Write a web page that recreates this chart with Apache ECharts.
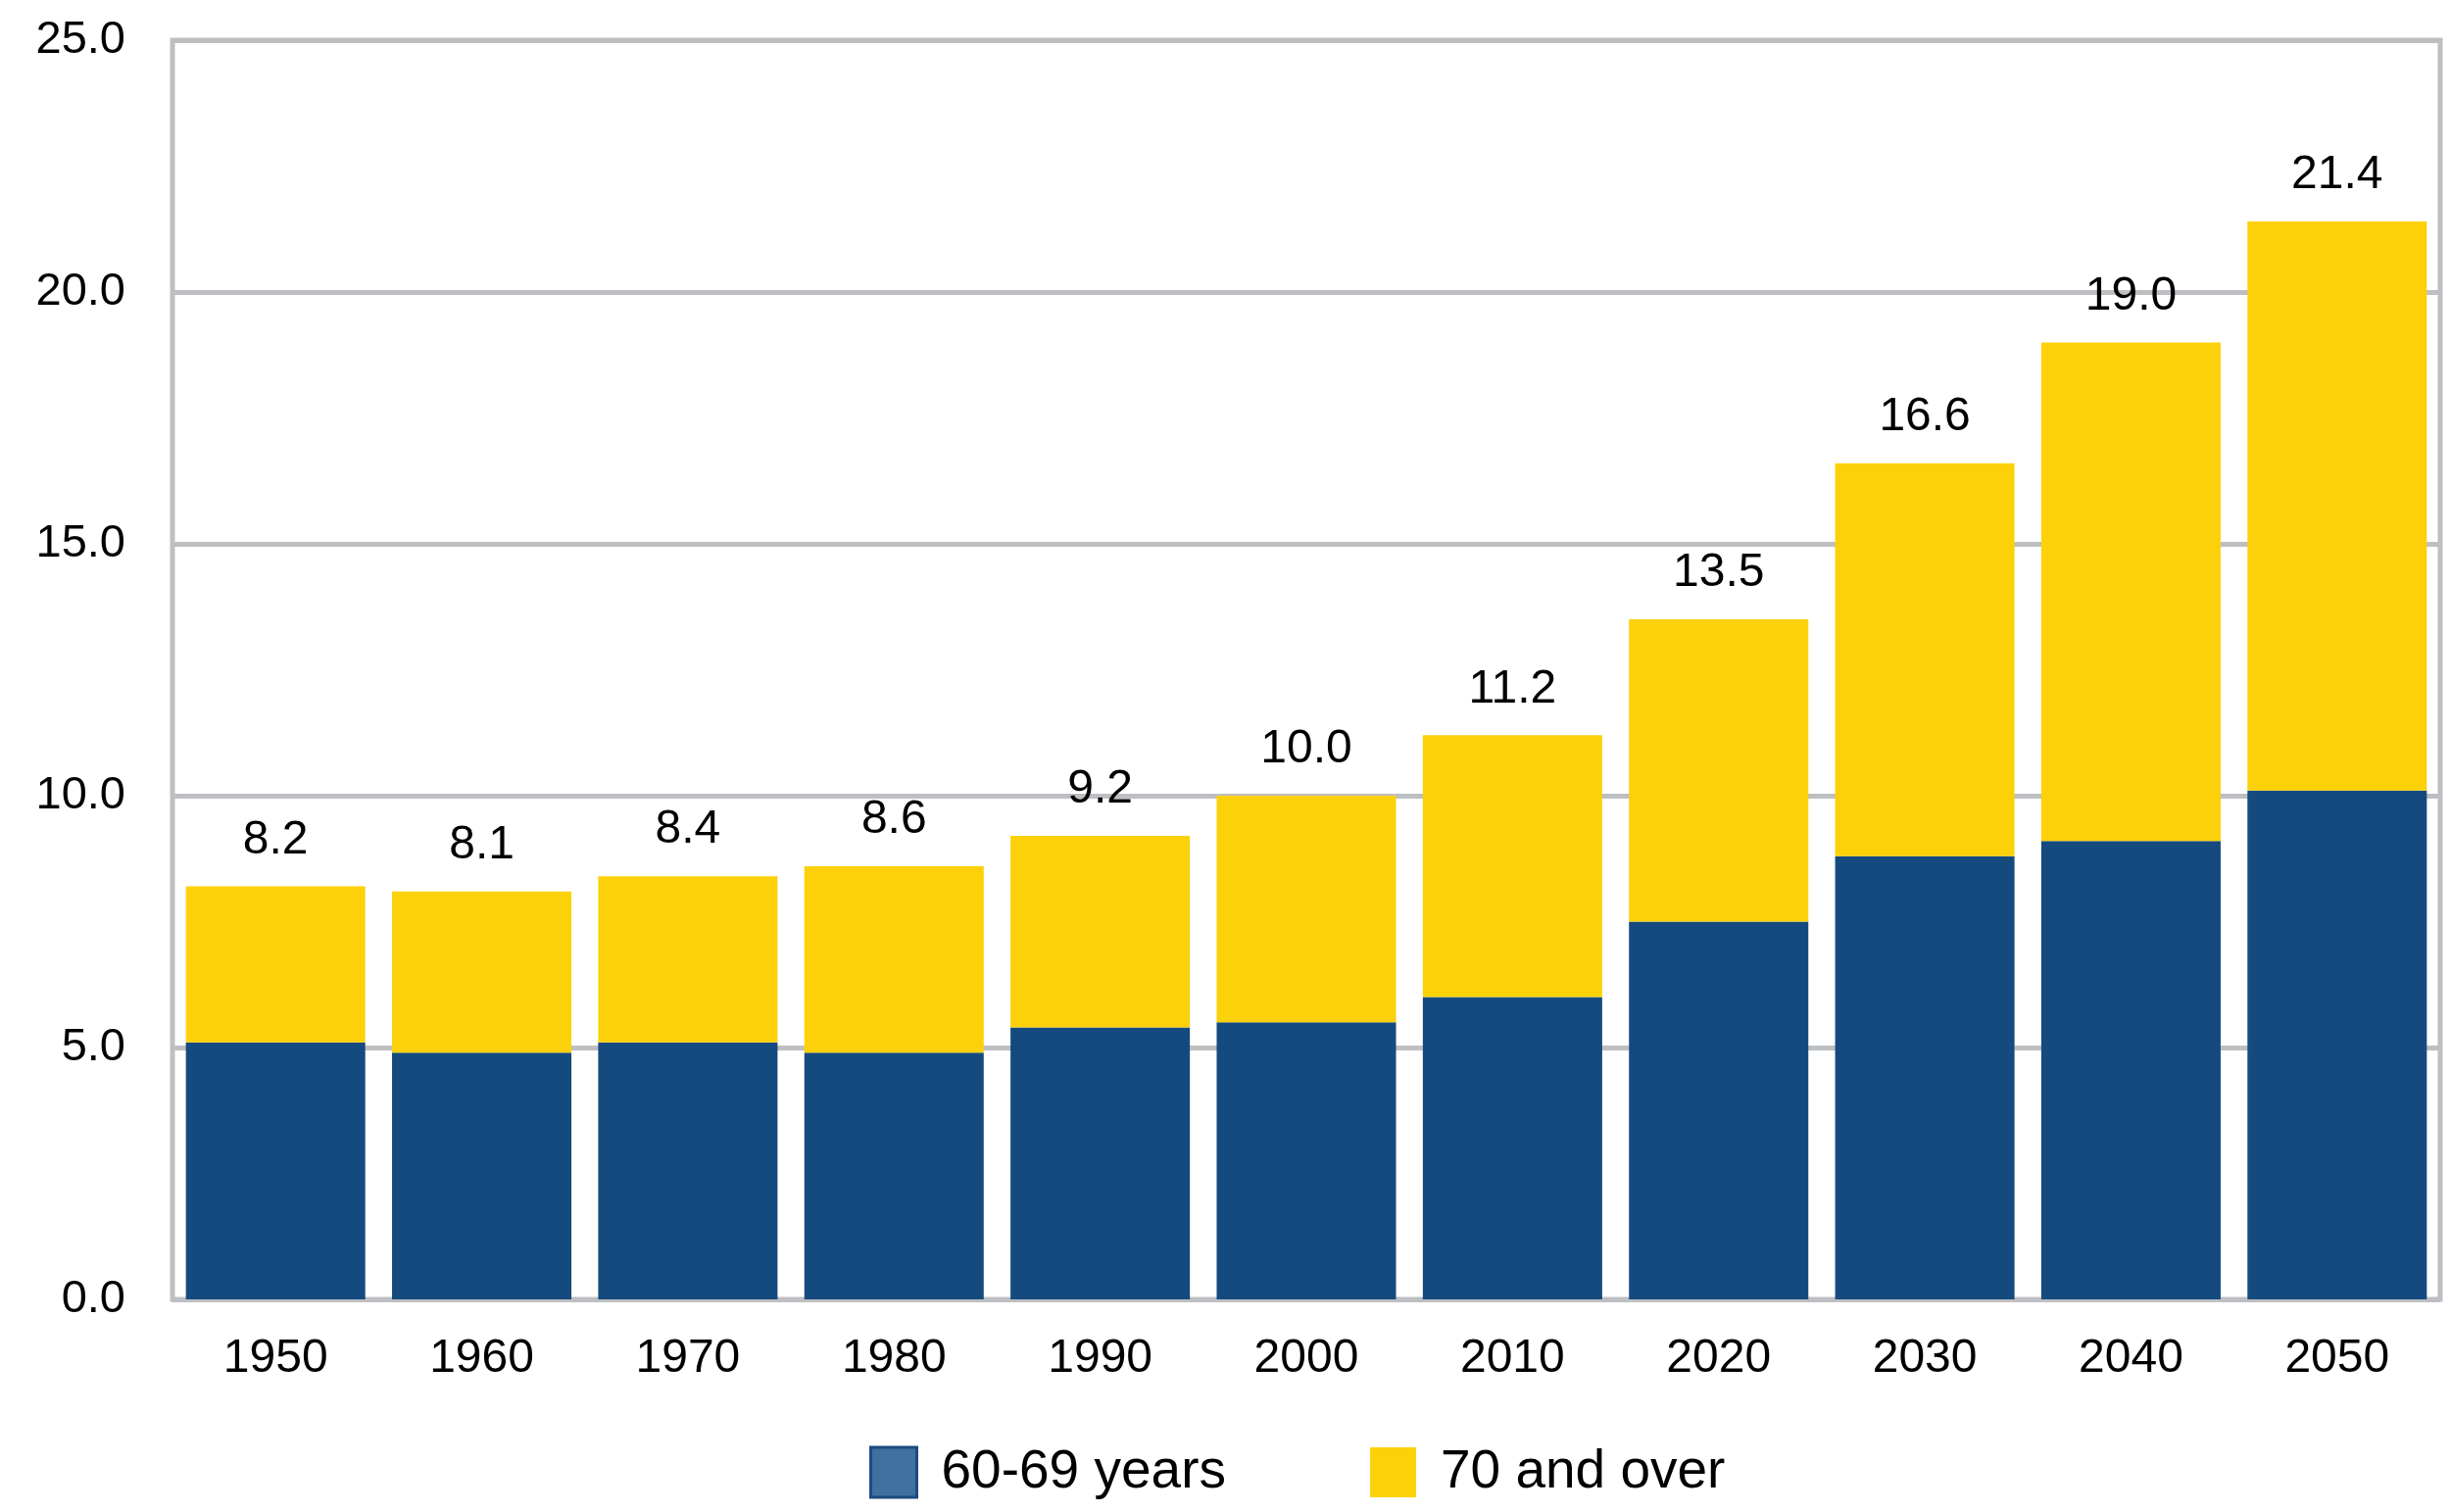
<!DOCTYPE html>
<html>
<head>
<meta charset="utf-8">
<script src="https://cdn.jsdelivr.net/npm/echarts@6/dist/echarts.min.js"></script>
<style>
html,body{margin:0;padding:0;background:#fff;}
#chart{width:2500px;height:1543px;}
</style>
</head>
<body>
<div id="chart"></div>
<script>
const years = ['1950','1960','1970','1980','1990','2000','2010','2020','2030','2040','2050'];
const aged6069 = [5.1, 4.9, 5.1, 4.9, 5.4, 5.5, 6.0, 7.5, 8.8, 9.1, 10.1];
const aged70plus = [3.1, 3.2, 3.3, 3.7, 3.8, 4.5, 5.2, 6.0, 7.8, 9.9, 11.3];
const totals = [8.2, 8.1, 8.4, 8.6, 9.2, 10.0, 11.2, 13.5, 16.6, 19.0, 21.4];
const yTicks = {min: 0, max: 25, interval: 5};
const seriesNames = ['60-69 years', '70 and over'];

const FONT = '"Liberation Sans", Arial, Helvetica, sans-serif';
const chart = echarts.init(document.getElementById('chart'), null, {renderer: 'canvas'});
chart.setOption({
  backgroundColor: '#ffffff',
  animation: false,
  grid: {
    left: 176, right: 10, top: 41, bottom: 217,
    show: true, borderColor: '#bdbfc2', borderWidth: 5
  },
  legend: {
    left: 882, top: 1470,
    itemWidth: 47, itemHeight: 51, itemGap: 147,
    icon: 'rect',
    textStyle: {fontFamily: FONT, fontSize: 55, color: '#000', padding: [0, 0, 0, 20]},
    data: [
      {name: seriesNames[0], itemStyle: {color: '#40709f', borderColor: '#1d4b7f', borderWidth: 3}},
      {name: seriesNames[1], itemStyle: {color: '#fdd10a', borderWidth: 0}}
    ]
  },
  xAxis: {
    type: 'category',
    data: years,
    axisLine: {show: false},
    axisTick: {show: false},
    axisLabel: {fontFamily: FONT, fontSize: 48, color: '#000', margin: 37}
  },
  yAxis: {
    type: 'value',
    min: yTicks.min, max: yTicks.max, interval: yTicks.interval,
    axisLine: {show: false},
    axisTick: {show: false},
    splitLine: {show: true, lineStyle: {color: '#bdbfc2', width: 5}},
    axisLabel: {fontFamily: FONT, fontSize: 47, color: '#000', margin: 48,
      formatter: v => v.toFixed(1)}
  },
  series: [
    {
      name: seriesNames[0], type: 'bar', stack: 'total',
      data: aged6069, barWidth: '87%',
      itemStyle: {color: '#154a7e'}
    },
    {
      name: seriesNames[1], type: 'bar', stack: 'total',
      data: aged70plus, barWidth: '87%',
      itemStyle: {color: '#fdd10a'},
      label: {
        show: true, position: 'top', distance: 23,
        fontFamily: FONT, fontSize: 48, color: '#000',
        formatter: p => totals[p.dataIndex].toFixed(1)
      }
    }
  ]
});
</script>
</body>
</html>
